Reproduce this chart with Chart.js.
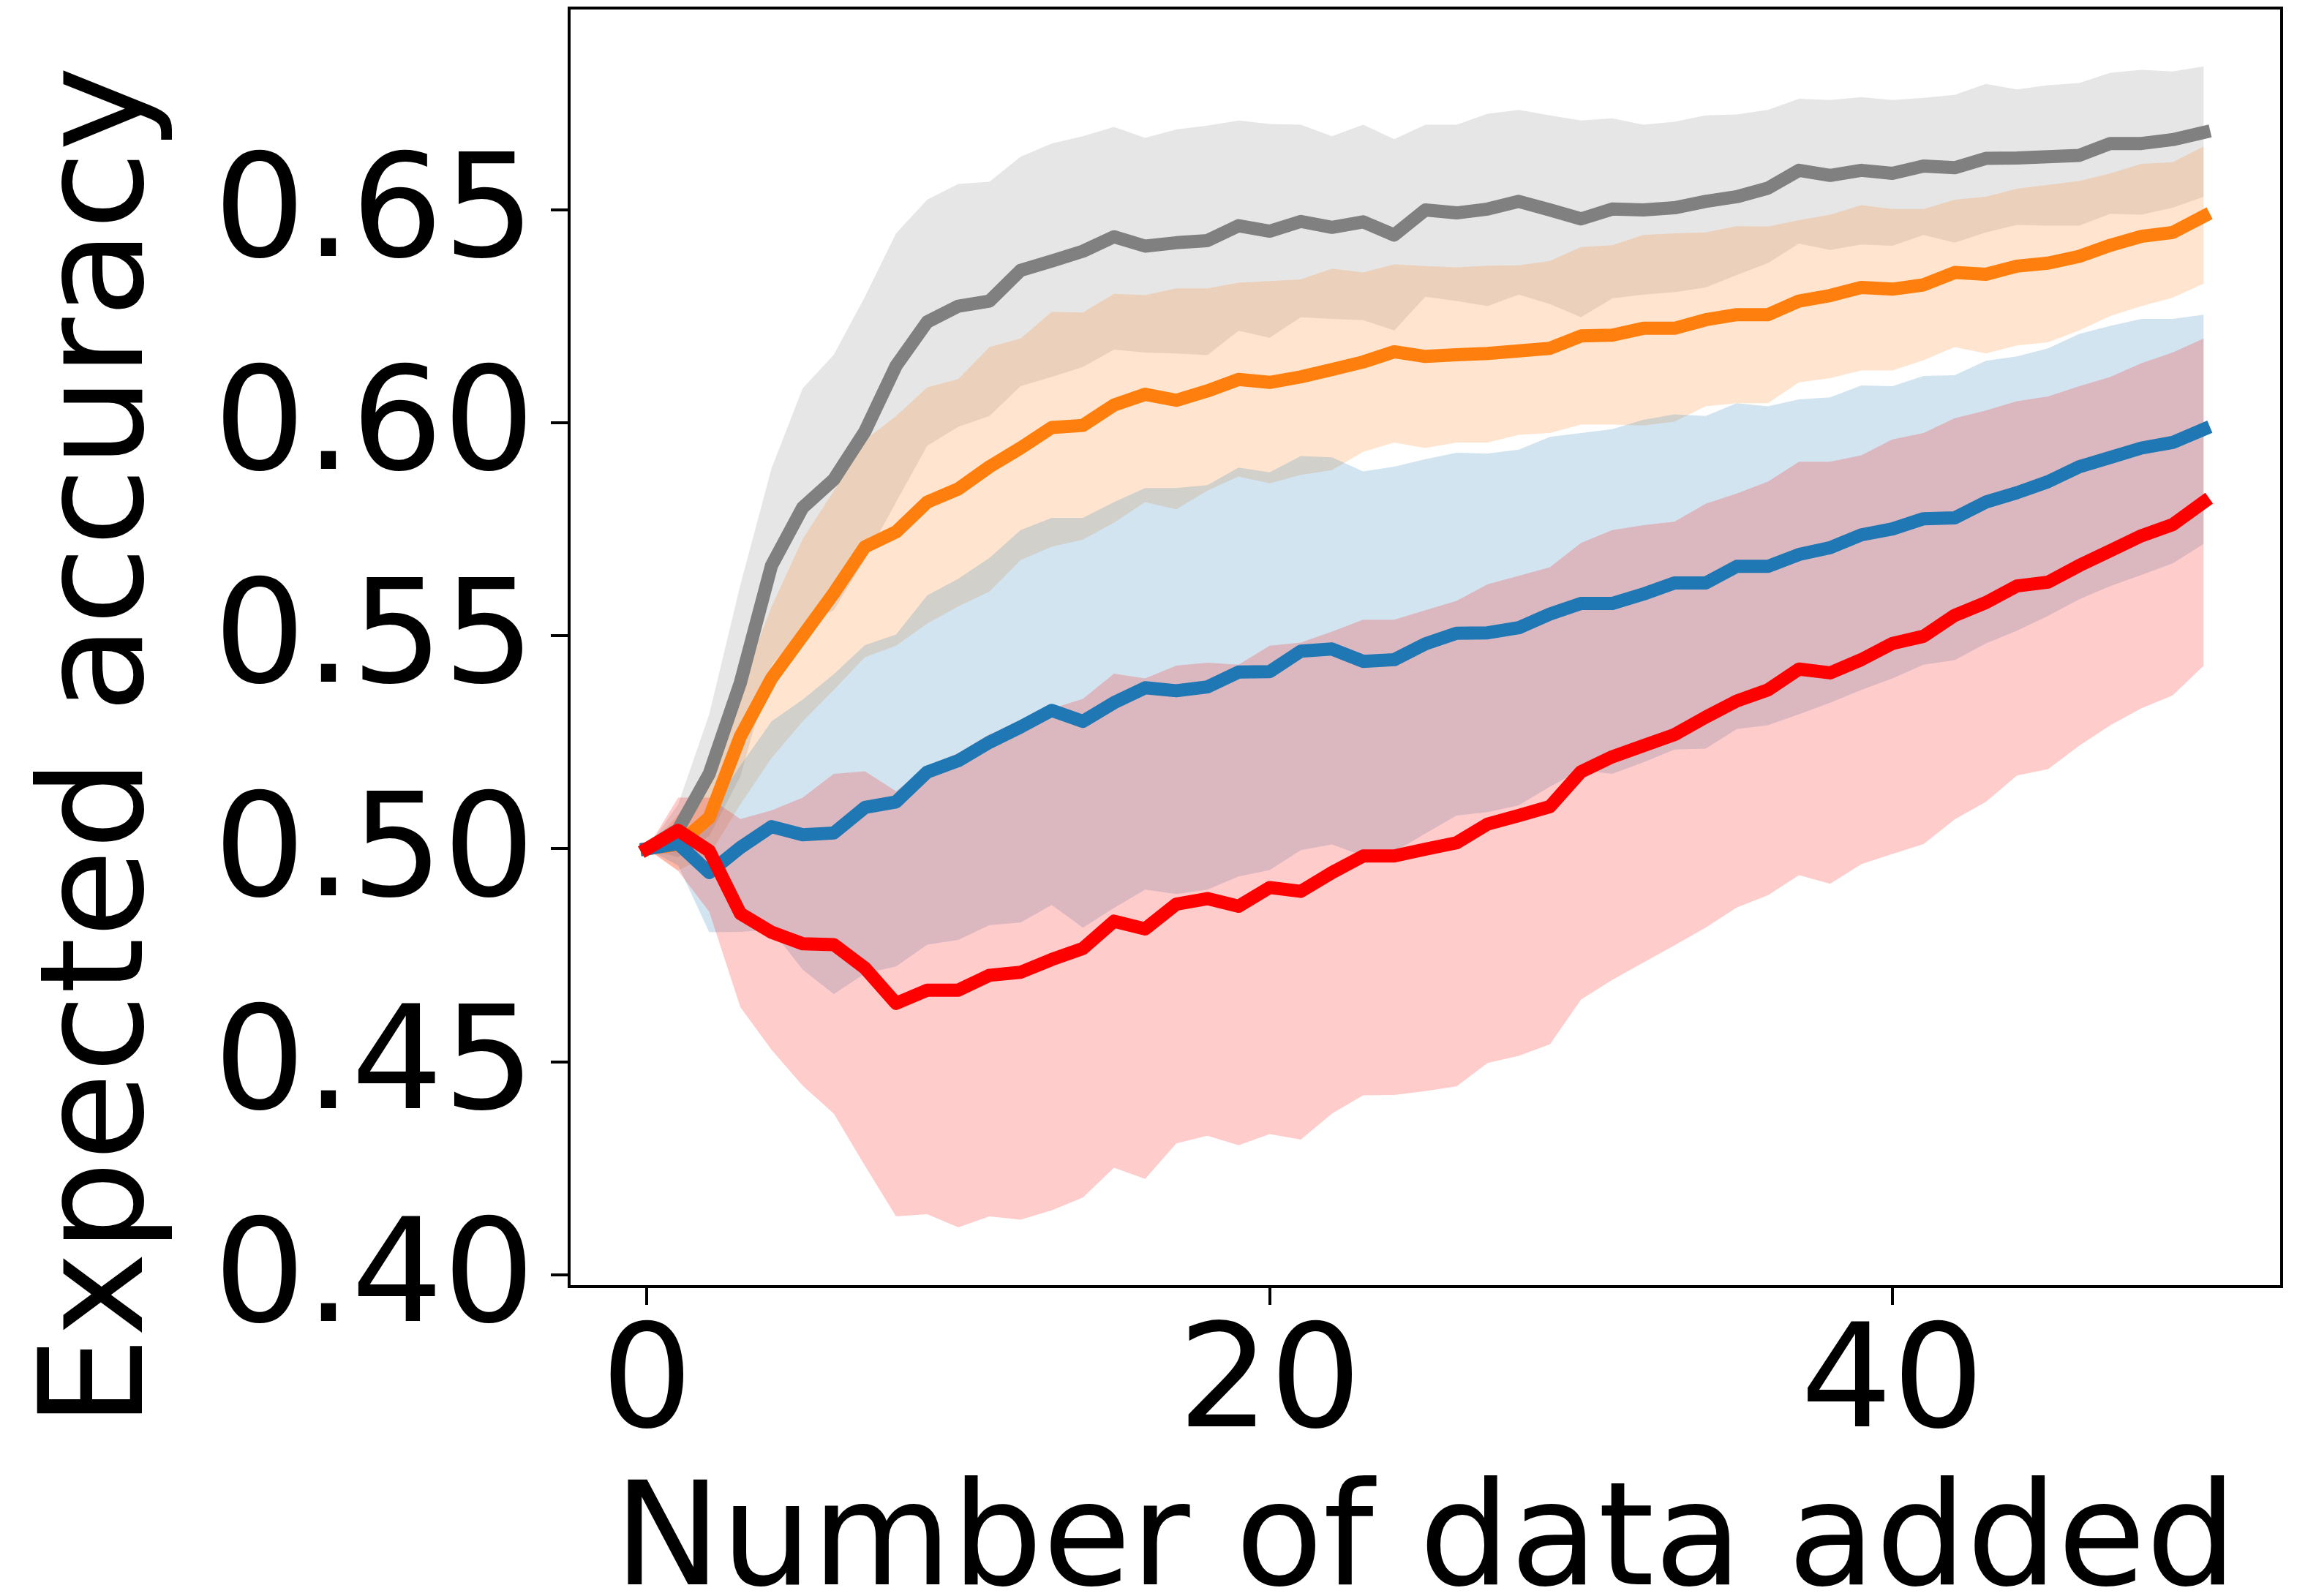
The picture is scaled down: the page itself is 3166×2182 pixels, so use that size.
<!DOCTYPE html>
<html>
<head>
<meta charset="utf-8">
<title>Expected accuracy vs number of data added</title>
<script src="https://cdn.jsdelivr.net/npm/chart.js@4.4.1/dist/chart.umd.min.js"></script>
<style>
  html, body { margin: 0; padding: 0; background: #fff; }
  canvas { display: block; }
</style>
</head>
<body>
<canvas id="chart" width="3166" height="2182" style="width:3166px;height:2182px"></canvas>
<script>
// x values and ticks
const steps = [0, 1, 2, 3, 4, 5, 6, 7, 8, 9, 10, 11, 12, 13, 14, 15, 16, 17, 18, 19, 20,
  21, 22, 23, 24, 25, 26, 27, 28, 29, 30, 31, 32, 33, 34, 35, 36, 37, 38, 39, 40,
  41, 42, 43, 44, 45, 46, 47, 48, 49, 50];
const xTicks = [0, 20, 40];
const yTicks = [0.40, 0.45, 0.50, 0.55, 0.60, 0.65];
const xTitle = 'Number of data added';
const yTitle = 'Expected accuracy';

// grey series
const greyMean = [0.500, 0.5045, 0.5176, 0.539, 0.5665, 0.5801, 0.5867, 0.598, 0.6134, 0.6237, 0.6274,
  0.6286, 0.6358, 0.638, 0.6403, 0.6437, 0.6415, 0.6423, 0.6428, 0.6463, 0.645,
  0.6473, 0.6459, 0.6472, 0.6441, 0.650, 0.6493, 0.6502, 0.652, 0.650, 0.6479,
  0.6502, 0.650, 0.6505, 0.652, 0.6531, 0.6551, 0.6593, 0.6581, 0.6593, 0.6586,
  0.6603, 0.6599, 0.6621, 0.6622, 0.6625, 0.6628, 0.6656, 0.6656, 0.6665, 0.6682];
const greyUpper = [0.500, 0.5104, 0.5316, 0.562, 0.5893, 0.6081, 0.616, 0.6296, 0.6445, 0.6524, 0.6561,
  0.6566, 0.6625, 0.6656, 0.6673, 0.6695, 0.6669, 0.6689, 0.6698, 0.671, 0.6702,
  0.670, 0.6673, 0.670, 0.6666, 0.670, 0.670, 0.6726, 0.6735, 0.6722, 0.671,
  0.6715, 0.670, 0.6707, 0.6722, 0.6724, 0.6735, 0.6761, 0.6758, 0.6765, 0.6758,
  0.6763, 0.677, 0.6796, 0.6783, 0.6793, 0.6798, 0.6822, 0.6829, 0.6825, 0.6837];
const greyLower = [0.500, 0.498, 0.503, 0.517, 0.543, 0.552, 0.556, 0.568, 0.5814, 0.5946, 0.5991,
  0.6016, 0.6086, 0.6108, 0.6131, 0.6172, 0.6165, 0.6163, 0.6159, 0.6216, 0.620,
  0.6248, 0.6244, 0.6241, 0.6217, 0.6296, 0.6286, 0.6274, 0.6301, 0.6279, 0.6248,
  0.6292, 0.6301, 0.6307, 0.6318, 0.6347, 0.6375, 0.6421, 0.6406, 0.6419, 0.6416,
  0.6441, 0.6423, 0.6447, 0.6465, 0.6463, 0.6463, 0.6491, 0.6489, 0.6505, 0.6531];

// orange series
const orangeMean = [0.500, 0.501, 0.5073, 0.5264, 0.540, 0.550, 0.560, 0.5709, 0.5744, 0.5814, 0.5845,
  0.5897, 0.5941, 0.5989, 0.5994, 0.6042, 0.6067, 0.6053, 0.6075, 0.6102, 0.6095,
  0.6108, 0.6125, 0.6143, 0.6167, 0.6156, 0.616, 0.6163, 0.6169, 0.6175, 0.6204,
  0.6206, 0.6222, 0.6222, 0.6242, 0.6254, 0.6254, 0.6286, 0.6299, 0.6318, 0.6314,
  0.6324, 0.6353, 0.6349, 0.6368, 0.6375, 0.6391, 0.6417, 0.6438, 0.6447, 0.6485];
const orangeUpper = [0.500, 0.508, 0.517, 0.538, 0.5568, 0.5727, 0.584, 0.5959, 0.6016, 0.6083, 0.6103,
  0.6178, 0.6198, 0.6261, 0.6259, 0.6303, 0.630, 0.6316, 0.6316, 0.6329, 0.6333,
  0.6337, 0.6362, 0.6353, 0.6372, 0.6368, 0.6365, 0.6369, 0.637, 0.638, 0.6413,
  0.6417, 0.6441, 0.6445, 0.6447, 0.6462, 0.6461, 0.6476, 0.6489, 0.6511, 0.6502,
  0.6502, 0.6524, 0.6531, 0.655, 0.6559, 0.6568, 0.6586, 0.6608, 0.6612, 0.6649];
const orangeLower = [0.500, 0.4949, 0.4985, 0.5104, 0.5213, 0.5299, 0.5373, 0.545, 0.5477, 0.5529, 0.5569,
  0.5604, 0.5678, 0.5709, 0.5726, 0.5766, 0.5814, 0.5797, 0.5841, 0.5874, 0.5858,
  0.5878, 0.5889, 0.5932, 0.5954, 0.5941, 0.5954, 0.5954, 0.5972, 0.5976, 0.5996,
  0.5996, 0.5994, 0.6003, 0.6039, 0.6046, 0.6046, 0.6095, 0.6105, 0.6123, 0.6123,
  0.6147, 0.6178, 0.6163, 0.6182, 0.6189, 0.6217, 0.6251, 0.6274, 0.6294, 0.6327];

// blue series
const blueMean = [0.500, 0.5012, 0.4944, 0.5003, 0.5052, 0.5033, 0.5037, 0.5097, 0.511, 0.518, 0.5207,
  0.525, 0.5286, 0.5325, 0.5299, 0.5343, 0.5378, 0.5371, 0.538, 0.5415, 0.5416,
  0.5464, 0.5469, 0.544, 0.5444, 0.5481, 0.5506, 0.5507, 0.5519, 0.5551, 0.5576,
  0.5576, 0.5598, 0.5624, 0.5624, 0.5663, 0.5663, 0.5691, 0.5707, 0.5737, 0.5751,
  0.5775, 0.5777, 0.5814, 0.5836, 0.5862, 0.5897, 0.5919, 0.5941, 0.5954, 0.5985];
const blueUpper = [0.500, 0.5025, 0.5085, 0.5195, 0.5299, 0.535, 0.541, 0.5478, 0.5503, 0.5595, 0.5634,
  0.5683, 0.5748, 0.5777, 0.5777, 0.5814, 0.5847, 0.5847, 0.5854, 0.5895, 0.5884,
  0.5922, 0.5919, 0.5886, 0.5897, 0.5915, 0.593, 0.5928, 0.5937, 0.5967, 0.5976,
  0.5985, 0.6007, 0.602, 0.6016, 0.6046, 0.6039, 0.6055, 0.606, 0.6088, 0.6086,
  0.611, 0.6112, 0.6146, 0.6156, 0.6175, 0.6209, 0.6228, 0.6244, 0.6244, 0.6254];
const blueLower = [0.500, 0.4961, 0.4804, 0.4805, 0.481, 0.4716, 0.4659, 0.4707, 0.4724, 0.4775, 0.4786,
  0.4821, 0.4827, 0.4868, 0.4815, 0.4861, 0.4904, 0.4894, 0.4904, 0.4935, 0.495,
  0.4997, 0.501, 0.4983, 0.4992, 0.5036, 0.5078, 0.5086, 0.5102, 0.5146, 0.5185,
  0.5176, 0.5203, 0.5233, 0.5235, 0.5281, 0.529, 0.5316, 0.5343, 0.5373, 0.540,
  0.5432, 0.5443, 0.5482, 0.5512, 0.5547, 0.5586, 0.5617, 0.5643, 0.567, 0.5716];

// red series
const redMean = [0.500, 0.5043, 0.4995, 0.4848, 0.4804, 0.4777, 0.4775, 0.472, 0.4637, 0.4668, 0.4668,
  0.4703, 0.471, 0.474, 0.4766, 0.483, 0.4812, 0.487, 0.4883, 0.4865, 0.4909,
  0.490, 0.4944, 0.4983, 0.4983, 0.4999, 0.5014, 0.5058, 0.5078, 0.5099, 0.5181,
  0.5216, 0.5242, 0.5268, 0.5309, 0.5347, 0.5373, 0.5422, 0.5413, 0.5444, 0.5482,
  0.5499, 0.5548, 0.5578, 0.5617, 0.5626, 0.5665, 0.570, 0.5735, 0.5761, 0.5814];
const redUpper = [0.500, 0.512, 0.512, 0.507, 0.509, 0.512, 0.5176, 0.5182, 0.5135, 0.5194, 0.5225,
  0.5269, 0.5291, 0.5329, 0.5352, 0.5411, 0.540, 0.543, 0.5437, 0.5432, 0.5477,
  0.5484, 0.551, 0.5538, 0.5538, 0.556, 0.5582, 0.5621, 0.5641, 0.5661, 0.5718,
  0.5748, 0.576, 0.5768, 0.581, 0.5834, 0.5862, 0.5909, 0.5909, 0.5924, 0.5961,
  0.5976, 0.6011, 0.6029, 0.6051, 0.6062, 0.6086, 0.6108, 0.614, 0.6165, 0.6198];
const redLower = [0.500, 0.4948, 0.4852, 0.4628, 0.4528, 0.4444, 0.4378, 0.4256, 0.4137, 0.4142, 0.4111,
  0.4137, 0.4129, 0.4151, 0.4181, 0.4251, 0.4225, 0.4308, 0.4326, 0.4304, 0.433,
  0.4317, 0.4378, 0.4421, 0.4422, 0.4431, 0.4442, 0.4497, 0.4514, 0.4541, 0.4646,
  0.4692, 0.4733, 0.4773, 0.4815, 0.4862, 0.4891, 0.4938, 0.4918, 0.4964, 0.4988,
  0.5011, 0.5069, 0.511, 0.5172, 0.5187, 0.5242, 0.529, 0.533, 0.536, 0.543];

const FONT = "'DejaVu Sans', 'Liberation Sans', sans-serif";
Chart.defaults.font.family = FONT;
Chart.defaults.color = '#000';

// drawn in this order: grey at the bottom, red on top
const bands = [
  { color: '#808080', shade: 'rgba(128, 128, 128, 0.2)', mean: greyMean, lower: greyLower, upper: greyUpper },
  { color: '#ff7f0e', shade: 'rgba(255, 127, 14, 0.2)', mean: orangeMean, lower: orangeLower, upper: orangeUpper },
  { color: '#1f77b4', shade: 'rgba(31, 119, 180, 0.2)', mean: blueMean, lower: blueLower, upper: blueUpper },
  { color: '#ff0000', shade: 'rgba(255, 0, 0, 0.2)', mean: redMean, lower: redLower, upper: redUpper }
];

const points = ys => steps.map((x, i) => ({ x, y: ys[i] }));

const datasets = [];
bands.forEach((b, k) => {
  datasets.push({
    data: points(b.lower),
    borderColor: 'rgba(0,0,0,0)',
    borderWidth: 0,
    fill: false,
    order: 20 + k
  });
  datasets.push({
    data: points(b.upper),
    borderColor: 'rgba(0,0,0,0)',
    borderWidth: 0,
    backgroundColor: b.shade,
    fill: '-1',
    order: 13 - k
  });
});
bands.forEach((b, k) => {
  datasets.push({
    data: points(b.mean),
    borderColor: b.color,
    borderWidth: 18,
    fill: false,
    order: 3 - k
  });
});

const noPad = s => {
  s.paddingTop = 0;
  s.paddingBottom = 0;
  s.paddingLeft = 0;
  s.paddingRight = 0;
};

const framePlugin = {
  id: 'frame',
  afterDatasetsDraw(chart) {
    const { ctx, chartArea: a } = chart;
    ctx.save();
    ctx.strokeStyle = '#000';
    ctx.lineWidth = 4;
    ctx.strokeRect(a.left, a.top, a.right - a.left, a.bottom - a.top);
    ctx.restore();
  }
};

const yTitlePlugin = {
  id: 'yTitle',
  afterDraw(chart) {
    const { ctx } = chart;
    ctx.save();
    ctx.translate(194, 1021);
    ctx.rotate(-Math.PI / 2);
    ctx.font = '196px ' + FONT;
    ctx.fillStyle = '#000';
    ctx.textAlign = 'center';
    ctx.textBaseline = 'alphabetic';
    ctx.fillText(yTitle, 0, 0);
    ctx.restore();
  }
};

new Chart(document.getElementById('chart'), {
  type: 'line',
  data: { datasets },
  options: {
    responsive: false,
    animation: false,
    devicePixelRatio: 1,
    events: [],
    layout: { padding: { left: 0, right: 47, top: 11, bottom: 0 } },
    elements: {
      point: { radius: 0, hoverRadius: 0 },
      line: { tension: 0, borderJoinStyle: 'round', borderCapStyle: 'square' }
    },
    plugins: {
      legend: { display: false },
      tooltip: { enabled: false },
      filler: { drawTime: 'beforeDatasetsDraw', propagate: false }
    },
    scales: {
      x: {
        type: 'linear',
        min: -2.5,
        max: 52.5,
        afterBuildTicks: s => { s.ticks = xTicks.map(v => ({ value: v })); },
        afterFit: s => { s.height = 423; noPad(s); },
        border: { display: false },
        grid: { drawOnChartArea: false, drawTicks: true, tickLength: 25, color: '#000', lineWidth: 4 },
        ticks: {
          autoSkip: false,
          maxRotation: 0,
          padding: 16,
          font: { size: 197, lineHeight: 1 },
          callback: v => String(v)
        },
        title: {
          display: true,
          text: xTitle,
          padding: 0,
          font: { size: 196, lineHeight: 0.68 }
        }
      },
      y: {
        type: 'linear',
        min: 0.3972,
        max: 0.6974,
        afterBuildTicks: s => { s.ticks = yTicks.map(v => ({ value: v })); },
        afterFit: s => { s.width = 778; noPad(s); },
        border: { display: false },
        grid: { drawOnChartArea: false, drawTicks: true, tickLength: 25, color: '#000', lineWidth: 4 },
        ticks: {
          autoSkip: false,
          padding: 22,
          labelOffset: 12,
          font: { size: 197, lineHeight: 1 },
          callback: v => v.toFixed(2)
        }
      }
    }
  },
  plugins: [framePlugin, yTitlePlugin]
});
</script>
</body>
</html>
